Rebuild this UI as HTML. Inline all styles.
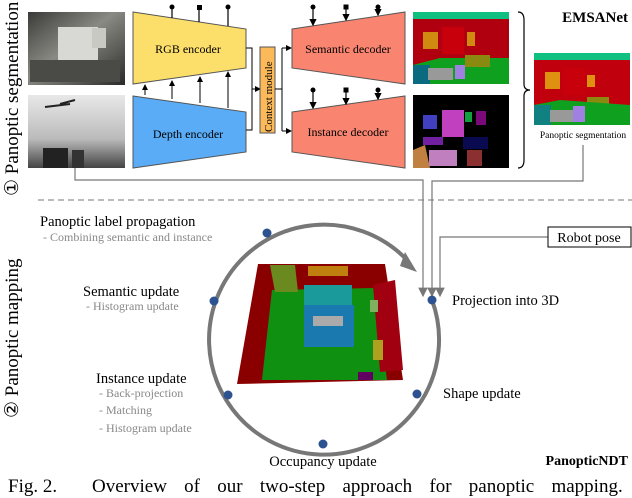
<!DOCTYPE html>
<html><head><meta charset="utf-8"><style>
html,body{margin:0;padding:0;background:#fff}
svg{display:block}
text{font-family:"Liberation Serif",serif}
</style></head><body>
<svg width="632" height="498" viewBox="0 0 632 498" xmlns="http://www.w3.org/2000/svg">
<defs>
<marker id="ah" markerWidth="6" markerHeight="6" refX="5" refY="3" orient="auto"><path d="M0,0 L6,3 L0,6 z" fill="#000"/></marker>
<marker id="ag" markerWidth="8" markerHeight="8" refX="7" refY="4" orient="auto"><path d="M0,0 L8,4 L0,8 z" fill="#777"/></marker>
<linearGradient id="rgb" x1="0" y1="0" x2="1" y2="1"><stop offset="0" stop-color="#3a3a38"/><stop offset="0.45" stop-color="#8a8a84"/><stop offset="1" stop-color="#2a2a28"/></linearGradient>
<linearGradient id="dep" x1="0" y1="0" x2="0" y2="1"><stop offset="0" stop-color="#e8e8e8"/><stop offset="0.6" stop-color="#bbb"/><stop offset="1" stop-color="#444"/></linearGradient>
</defs>

<text transform="translate(18,196) rotate(-90)" font-size="19" fill="#000">① Panoptic segmentation</text>
<text transform="translate(18,418) rotate(-90)" font-size="19" fill="#000">② Panoptic mapping</text>

<rect x="28" y="12" width="97" height="73" fill="url(#rgb)"/>
<rect x="58" y="27" width="40" height="33" fill="#d8d8d4"/>
<rect x="92" y="28" width="14" height="20" fill="#c9c9c4"/>
<rect x="30" y="60" width="90" height="22" fill="#4a4a46"/>
<rect x="28" y="95" width="97" height="73" fill="url(#dep)"/>
<rect x="43" y="148" width="25" height="20" fill="#222"/>
<rect x="72" y="150" width="12" height="18" fill="#333"/>
<path d="M45,107 L70,104 M60,104 L75,100" stroke="#222" stroke-width="2"/>

<polygon points="133,12 246,29 246,68 133,84" fill="#fbdf6a" stroke="#555" stroke-width="1"/>
<text x="188" y="53" font-size="12" text-anchor="middle">RGB encoder</text>
<polygon points="133,96 246,112 246,152 133,168" fill="#5aacf6" stroke="#555" stroke-width="1"/>
<text x="188" y="138" font-size="12" text-anchor="middle">Depth encoder</text>
<g stroke="#000" stroke-width="1" marker-end="url(#ah)">
<line x1="145" y1="95" x2="145" y2="85"/>
<line x1="172" y1="99" x2="172" y2="81"/>
<line x1="200" y1="103" x2="200" y2="77"/>
<line x1="228" y1="108" x2="228" y2="72"/>
</g>
<g stroke="#000" stroke-width="1.2"><line x1="172" y1="7" x2="172" y2="18"/><line x1="199" y1="7" x2="199" y2="22"/><line x1="228" y1="7" x2="228" y2="26"/></g>
<circle cx="172" cy="7" r="2.5"/><rect x="197" y="5" width="5" height="5"/><circle cx="228" cy="7" r="2.5"/>

<polyline points="246,48 252,48 252,130 246,130" fill="none" stroke="#000"/>
<line x1="252" y1="89" x2="260" y2="89" stroke="#000" marker-end="url(#ah)"/>
<rect x="260" y="47" width="15" height="86" fill="#fbb95a" stroke="#555"/>
<text transform="translate(272,132) rotate(-90)" font-size="11">Context module</text>
<line x1="275" y1="89" x2="282" y2="89" stroke="#000"/>
<line x1="282" y1="48" x2="282" y2="131" stroke="#000"/>
<line x1="282" y1="48" x2="291" y2="48" stroke="#000" marker-end="url(#ah)"/>
<line x1="282" y1="131" x2="291" y2="131" stroke="#000" marker-end="url(#ah)"/>

<polygon points="292,29 405,12 405,84 292,68" fill="#f98570" stroke="#555"/>
<text x="348" y="53" font-size="12" text-anchor="middle">Semantic decoder</text>
<polygon points="292,112 405,96 405,168 292,152" fill="#f98570" stroke="#555"/>
<text x="348" y="136" font-size="12" text-anchor="middle">Instance decoder</text>
<g stroke="#000" stroke-width="1.2" marker-end="url(#ah)">
<line x1="313" y1="7" x2="313" y2="25"/><line x1="346" y1="7" x2="346" y2="20"/><line x1="378" y1="7" x2="378" y2="15"/>
<line x1="313" y1="90" x2="313" y2="108"/><line x1="346" y1="90" x2="346" y2="104"/><line x1="378" y1="90" x2="378" y2="99"/>
</g>
<circle cx="313" cy="7" r="2.5"/><rect x="343.5" y="4.5" width="5" height="5"/><circle cx="378" cy="7" r="2.5"/>
<circle cx="313" cy="90" r="2.5"/><rect x="343.5" y="87.5" width="5" height="5"/><circle cx="378" cy="90" r="2.5"/>

<rect x="413" y="12" width="96" height="72" fill="#b00010"/>
<rect x="413" y="12" width="96" height="7" fill="#10c080"/>
<rect x="423" y="32" width="15" height="17" fill="#d08a10"/>
<rect x="442" y="27" width="22" height="27" fill="#c8000c"/>
<rect x="467" y="32" width="8" height="14" fill="#d08a10"/>
<polygon points="413,75 413,65 440,58 509,58 509,84 430,84" fill="#10a020"/>
<rect x="413" y="65" width="17" height="19" fill="#0a6a80"/>
<rect x="428" y="68" width="25" height="12" fill="#999"/>
<rect x="465" y="55" width="25" height="12" fill="#8a8a10"/>
<rect x="455" y="65" width="10" height="14" fill="#a080e0"/>
<rect x="413" y="95" width="96" height="73" fill="#000"/>
<rect x="423" y="115" width="14" height="14" fill="#4040c0"/>
<rect x="442" y="110" width="22" height="27" fill="#c040c0"/>
<rect x="476" y="111" width="10" height="14" fill="#7a0a7a"/>
<rect x="465" y="112" width="7" height="10" fill="#10a040"/>
<polygon points="413,168 413,150 425,145 430,168" fill="#c08040"/>
<rect x="429" y="150" width="28" height="16" fill="#c080c0"/>
<rect x="467" y="150" width="15" height="16" fill="#8a3030"/>
<rect x="463" y="137" width="25" height="12" fill="#0a0a50"/>
<rect x="423" y="137" width="20" height="8" fill="#7020a0"/>
<path d="M518,12 Q524,12 524,20 L524,84 Q524,90 530,90 Q524,90 524,96 L524,160 Q524,168 518,168" fill="none" stroke="#000" stroke-width="1.2"/>
<text x="628" y="22" font-size="15" font-weight="bold" text-anchor="end">EMSANet</text>
<rect x="534" y="53" width="96" height="72" fill="#c0000c"/>
<rect x="534" y="53" width="96" height="7" fill="#10c080"/>
<rect x="545" y="72" width="15" height="17" fill="#e09010"/>
<rect x="563" y="68" width="22" height="27" fill="#c8000c"/>
<rect x="587" y="75" width="8" height="12" fill="#e09010"/>
<rect x="587" y="97" width="22" height="12" fill="#8a8a10"/>
<polygon points="534,125 534,105 560,100 630,105 630,125" fill="#10a020"/>
<rect x="534" y="105" width="17" height="20" fill="#108080"/>
<rect x="550" y="110" width="25" height="12" fill="#999"/>
<rect x="573" y="106" width="12" height="16" fill="#a080e0"/>
<text x="583" y="138" font-size="9.5" text-anchor="middle">Panoptic segmentation</text>

<line x1="38" y1="200" x2="632" y2="200" stroke="#777" stroke-dasharray="6,4" stroke-width="1"/>

<polyline points="75,168 75,180 423,180 423,296" fill="none" stroke="#777" stroke-width="1.2" marker-end="url(#ag)"/>
<polyline points="583,145 583,181 432,181 432,296" fill="none" stroke="#777" stroke-width="1.2" marker-end="url(#ag)"/>
<polyline points="548,237 440,237 440,296" fill="none" stroke="#777" stroke-width="1.2" marker-end="url(#ag)"/>
<rect x="548" y="227" width="83" height="20" fill="#fff" stroke="#000"/>
<text x="589" y="242" font-size="14" text-anchor="middle">Robot pose</text>

<path d="M432,300 A115,115 0 1 1 407,260" fill="none" stroke="#777" stroke-width="4"/>
<polygon points="405,252 417,272 400,266" fill="#777"/>
<g fill="#2c5290">
<circle cx="267" cy="233" r="4.5"/><circle cx="214" cy="301" r="4.5"/><circle cx="228" cy="395" r="4.5"/>
<circle cx="323" cy="444" r="4.5"/><circle cx="417" cy="394" r="4.5"/><circle cx="432" cy="300" r="4.5"/>
</g>

<polygon points="258,264 385,264 403,380 237,384" fill="#8a0000"/>
<polygon points="272,290 375,288 387,380 262,380" fill="#109010"/>
<polygon points="270,265 295,265 298,292 275,292" fill="#6a8a20"/>
<rect x="308" y="266" width="40" height="10" fill="#c08010"/>
<rect x="304" y="285" width="48" height="20" fill="#1a9a9a"/>
<rect x="304" y="305" width="50" height="42" fill="#1a7ab0"/>
<rect x="313" y="316" width="30" height="10" fill="#aaa"/>
<polygon points="373,285 395,280 403,370 380,372" fill="#a00010"/>
<rect x="370" y="300" width="8" height="12" fill="#80b060"/>
<rect x="373" y="340" width="10" height="20" fill="#b0a020"/>
<rect x="358" y="372" width="15" height="8" fill="#600060"/>

<text x="40" y="226" font-size="14.5">Panoptic label propagation</text>
<text x="43" y="241" font-size="12" fill="#888">- Combining semantic and instance</text>
<text x="83" y="296" font-size="14.5">Semantic update</text>
<text x="86" y="310" font-size="12" fill="#888">- Histogram update</text>
<text x="96" y="383" font-size="14.5">Instance update</text>
<text x="99" y="397" font-size="12" fill="#888">- Back-projection</text>
<text x="99" y="414" font-size="12" fill="#888">- Matching</text>
<text x="99" y="432" font-size="12" fill="#888">- Histogram update</text>
<text x="452" y="305" font-size="14.5">Projection into 3D</text>
<text x="443" y="398" font-size="14.5">Shape update</text>
<text x="323" y="466" font-size="14.5" text-anchor="middle">Occupancy update</text>
<text x="628" y="465" font-size="14" font-weight="bold" text-anchor="end">PanopticNDT</text>

<text x="8" y="492" font-size="19">Fig. 2.</text>
<text x="92" y="492" font-size="19" word-spacing="12.5">Overview of our two-step approach for panoptic mapping.</text>
</svg>
</body></html>
